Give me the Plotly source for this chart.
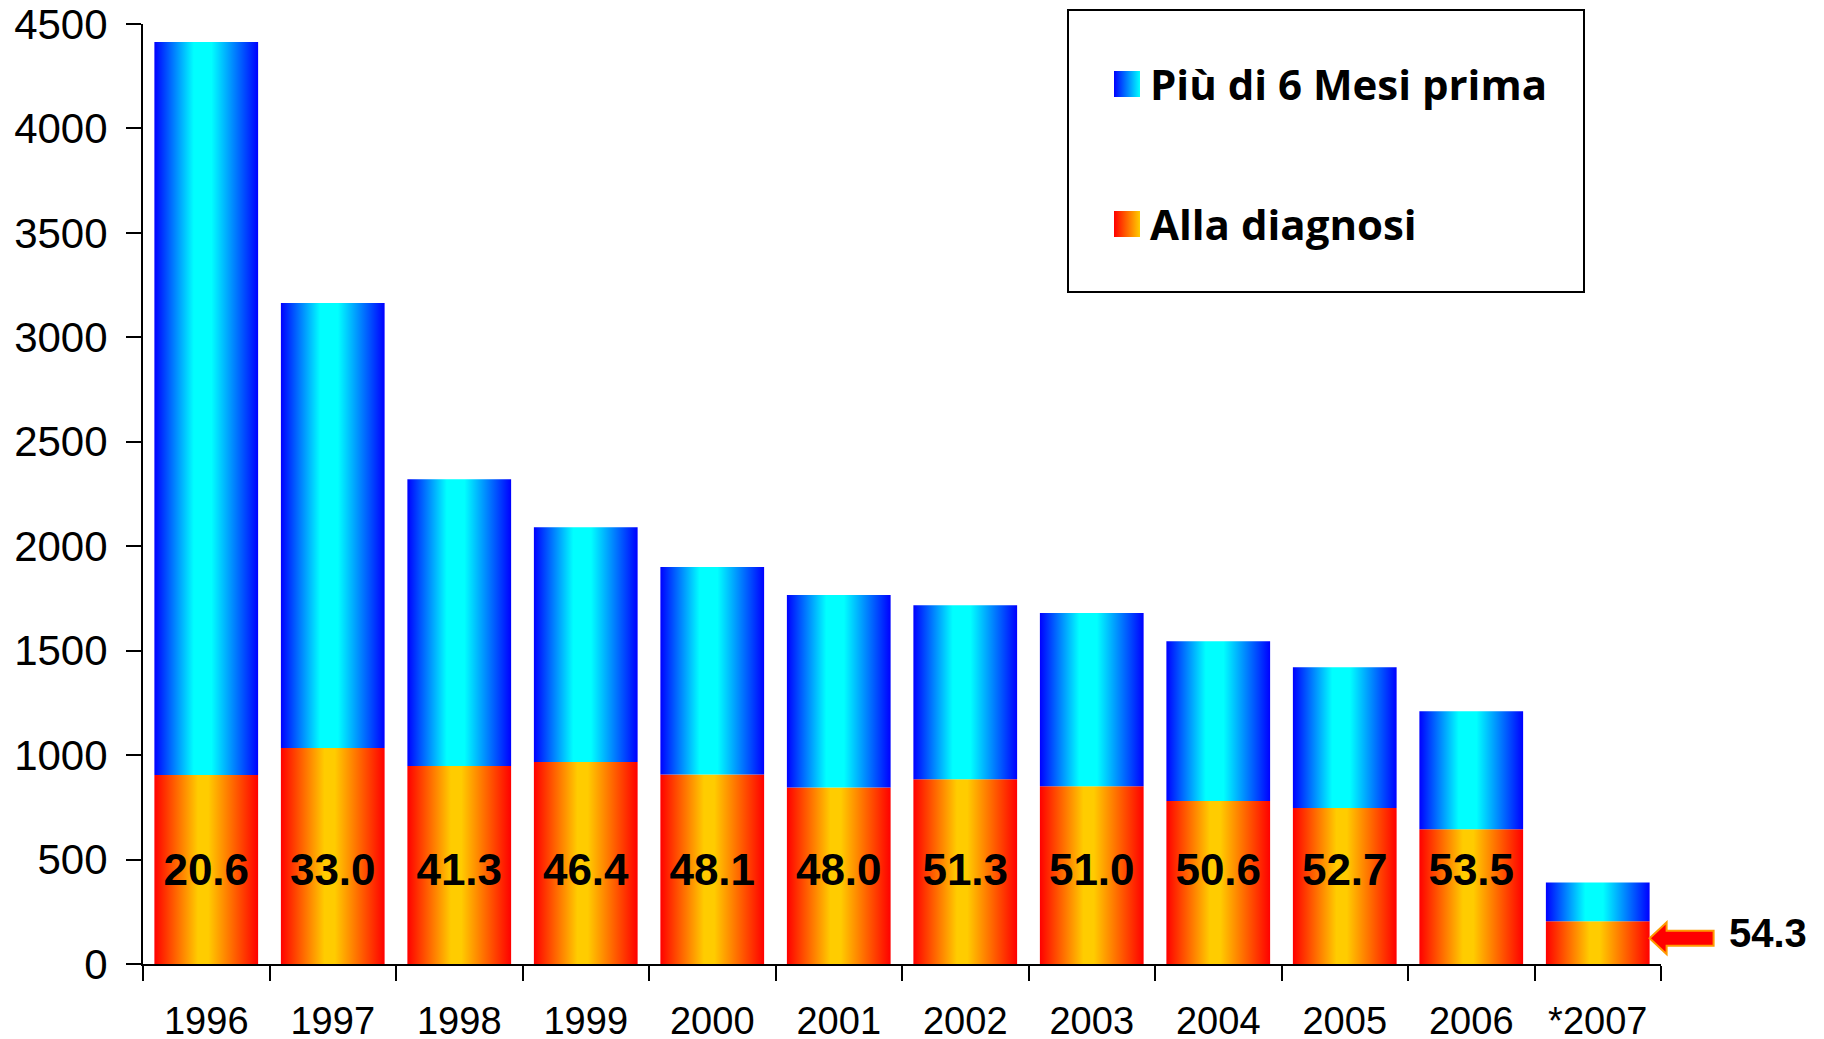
import plotly.graph_objects as go

# ---------------- data ----------------
years = ["1996", "1997", "1998", "1999", "2000", "2001", "2002", "2003",
         "2004", "2005", "2006", "*2007"]
alla_diagnosi = [905, 1034, 948, 967, 907, 845, 885, 851, 780, 747, 645, 205]
piu_6_mesi = [3509, 2130, 1373, 1124, 993, 921, 833, 829, 765, 674, 565, 185]
percent_labels = ["20.6", "33.0", "41.3", "46.4", "48.1", "48.0", "51.3",
                  "51.0", "50.6", "52.7", "53.5", "54.3"]
y_ticks = [0, 500, 1000, 1500, 2000, 2500, 3000, 3500, 4000, 4500]
series_names = ["Più di 6 Mesi prima", "Alla diagnosi"]

# ---------------- style ----------------
OFF = 8                      # default page margin of the html body
W, H = 1824 - OFF, 1039 - OFF
M_L, M_R, M_T, M_B = 143 - OFF, 163, 24 - OFF, 75
BAR_W = 0.82
X_RANGE = [-0.5, len(years) - 0.5]
Y_RANGE = [0, 4500]
BLUE_SCALE = [[0, "#0000FF"], [0.38, "#00FFFF"], [0.55, "#00FFFF"], [1, "#0000FF"]]
ORANGE_SCALE = [[0, "#FF0000"], [0.42, "#FFCC00"], [0.52, "#FFCC00"], [1, "#FF0000"]]
LABEL_Y = 430
FONT = "Liberation Sans, Arial, sans-serif"
NARROW = "Liberation Sans Narrow, Arial Narrow, Liberation Sans, Arial, sans-serif"

fig = go.Figure()

# stacked bars drawn as gradient-filled rectangles
for i, (lo, hi) in enumerate(zip(alla_diagnosi, piu_6_mesi)):
    x0, x1 = i - BAR_W / 2, i + BAR_W / 2
    top = lo + hi
    fig.add_trace(go.Scatter(
        x=[x0, x1, x1, x0, x0], y=[0, 0, lo, lo, 0],
        fill="toself", mode="none",
        fillgradient=dict(type="horizontal", colorscale=ORANGE_SCALE),
        hoverinfo="skip", showlegend=False, name=series_names[1]))
    fig.add_trace(go.Scatter(
        x=[x0, x1, x1, x0, x0], y=[lo, lo, top, top, lo],
        fill="toself", mode="none",
        fillgradient=dict(type="horizontal", colorscale=BLUE_SCALE),
        hoverinfo="skip", showlegend=False, name=series_names[0]))

# percentage labels inside bars (all but the last)
n_in = len(years) - 1
fig.add_trace(go.Scatter(
    x=list(range(n_in)), y=[LABEL_Y] * n_in, mode="text",
    text=percent_labels[:n_in], textposition="middle center",
    textfont=dict(family=NARROW, size=44, color="black", weight="bold"),
    hoverinfo="skip", showlegend=False))

# arrow + last label (paper refs so the arrow is not clipped by the plot area)
last = len(years) - 1
anchor_x = last + BAR_W / 2
anchor_y = alla_diagnosi[last] * 0.6
ax_paper = (anchor_x - X_RANGE[0]) / (X_RANGE[1] - X_RANGE[0])
ay_paper = (anchor_y - Y_RANGE[0]) / (Y_RANGE[1] - Y_RANGE[0])
fig.add_shape(type="path", xref="paper", yref="paper", xsizemode="pixel", ysizemode="pixel",
              xanchor=ax_paper, yanchor=ay_paper,
              path="M0,0 L17,16 L17,7.5 L64,7.5 L64,-7.5 L17,-7.5 L17,-16 Z",
              fillcolor="#FF0000", line=dict(color="#FF9900", width=2))
fig.add_annotation(x=anchor_x, y=anchor_y, xref="x", yref="y", text=percent_labels[last],
                   showarrow=False, xanchor="left", yanchor="middle", xshift=77, yshift=5,
                   font=dict(family=FONT, size=40, color="black", weight="bold"))

# manual legend (positions given in screen pixels)
pw, ph = W - M_L - M_R, H - M_T - M_B
def px_to_paper(px, py):
    return (px - OFF - M_L) / pw, (H - M_B - (py - OFF)) / ph

bx0, by0 = px_to_paper(1068, 292)
bx1, by1 = px_to_paper(1584, 10)
fig.add_shape(type="rect", xref="paper", yref="paper", x0=bx0, y0=by0, x1=bx1, y1=by1,
              line=dict(color="black", width=2), fillcolor="rgba(0,0,0,0)")
legend_rows = [(84, "#0000FF", "#00FFFF"), (224, "#FF0000", "#FFCC00")]
for name, (py, c1, c2) in zip(series_names, legend_rows):
    sx, sy = px_to_paper(1127, py)
    fig.add_trace(go.Scatter(
        x=[sx], y=[sy], xaxis="x2", yaxis="y2", mode="markers",
        marker=dict(symbol="square", size=26, color=c1,
                    gradient=dict(type="horizontal", color=c2), line=dict(width=0)),
        hoverinfo="skip", showlegend=False, cliponaxis=False))
    tx, ty = px_to_paper(1148, py)
    fig.add_annotation(x=tx, y=ty, xref="paper", yref="paper", text=name, showarrow=False,
                       xanchor="left", yanchor="middle",
                       font=dict(family="Open Sans, Liberation Sans, sans-serif", size=42,
                                 color="black", weight="bold"))

fig.update_layout(
    width=W, height=H, margin=dict(l=M_L, r=M_R, t=M_T, b=M_B, autoexpand=False),
    paper_bgcolor="white", plot_bgcolor="white", showlegend=False,
    xaxis=dict(range=X_RANGE, tickmode="array",
               tickvals=list(range(len(years))), ticktext=years, ticks="",
               showgrid=False, zeroline=False, showline=True, linecolor="black",
               linewidth=2, automargin=False, ticklabelstandoff=22,
               ticklabeloverflow="allow",
               tickfont=dict(family=FONT, size=38, color="black"),
               minor=dict(tick0=-0.5, dtick=1, ticks="outside", ticklen=15,
                          tickwidth=2, tickcolor="black", showgrid=False)),
    yaxis=dict(range=Y_RANGE, tickmode="array", tickvals=y_ticks,
               ticks="outside", ticklen=15, tickwidth=2, tickcolor="black",
               showgrid=False, zeroline=False, showline=True, linecolor="black",
               linewidth=2, automargin=False, ticklabelstandoff=10,
               ticklabeloverflow="allow",
               tickfont=dict(family=FONT, size=42, color="black")),
    xaxis2=dict(overlaying="x", range=[0, 1], visible=False, anchor="y2"),
    yaxis2=dict(overlaying="y", range=[0, 1], visible=False, anchor="x2"),
)

fig.write_html("out.html")
